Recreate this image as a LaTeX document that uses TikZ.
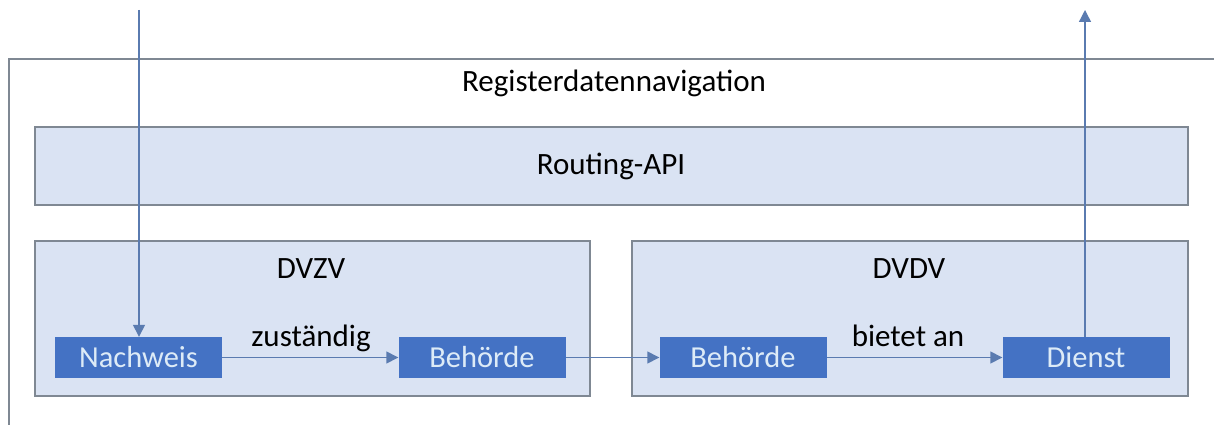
\documentclass[tikz,border=0pt]{standalone}
\usepackage{fontspec}
\setmainfont{Carlito}
\usetikzlibrary{arrows.meta}
\definecolor{boxfill}{HTML}{DAE3F3}
\definecolor{boxline}{HTML}{7F8893}
\definecolor{nodeblue}{HTML}{4472C4}
\definecolor{nodetext}{HTML}{DDEBF7}
\definecolor{arrowc}{HTML}{5A7BB0}
\tikzset{
  x=1pt, y=-1pt,
  areabox/.style={draw=boxline, fill=boxfill, line width=1.5pt},
  bluebox/.style={fill=nodeblue, draw=none, text=nodetext, minimum width=167pt, minimum height=41pt, inner sep=0pt, font=\fontsize{30.5}{34}\selectfont},
  lbl/.style={font=\fontsize{31}{35}\selectfont, text=black, inner sep=0pt},
  flow/.style={draw=arrowc, line width=1.4pt, -{Triangle[length=12pt,width=12pt]}}
}
\begin{document}
\begin{tikzpicture}
\useasboundingbox (0,0) rectangle (1214,425);
\fill[white] (0,0) rectangle (1214,425);
% outer frame
\draw[boxline, line width=1.5pt] (9,425) -- (9,59) -- (1214,59);
\node[lbl] (title) at (614,83) {Registerdatennavigation};
% routing
\draw[areabox] (35,127) rectangle (1188,205);
\node[lbl] (routing) at (611,166) {Routing-API};
% DVZV
\draw[areabox] (35,241) rectangle (590,396);
\node[lbl] (dvzv) at (311,269) {DVZV};
\draw[areabox] (632,241) rectangle (1188,396);
\node[lbl] (dvdv) at (909,269) {DVDV};
% blue nodes
\node[bluebox] (nachweis) at (138.5,357.5) {Nachweis};
\node[bluebox] (beh1) at (482,357.5) {Behörde};
\node[bluebox] (beh2) at (743,357.5) {Behörde};
\node[bluebox] (dienst) at (1086,357.5) {Dienst};
\coordinate (top_in) at (139,10);
\coordinate (top_out) at (1085,10);
\draw[flow] (top_in) -- (top_in |- nachweis.north);
\draw[flow] (nachweis.east) -- (beh1.west);
\draw[flow] (beh1.east) -- (beh2.west);
\draw[flow] (beh2.east) -- (dienst.west);
\draw[flow] (top_out |- dienst.north) -- (top_out);
\node[lbl] (zust) at (311,338) {zuständig};
\node[lbl] (biet) at (908,336) {bietet an};
\end{tikzpicture}
\end{document}
